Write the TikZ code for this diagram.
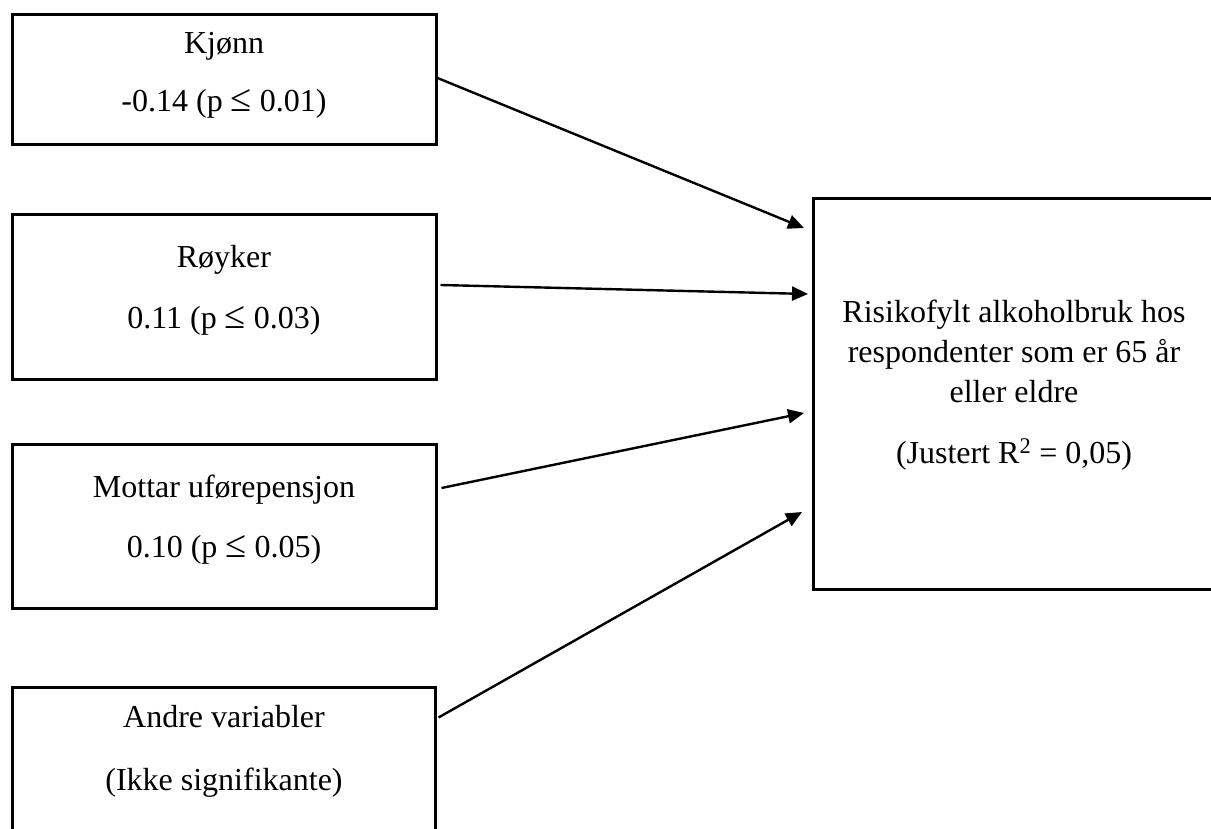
\documentclass[tikz,border=0pt]{standalone}
\usepackage{fontspec}
\setmainfont{Liberation Serif}
\usetikzlibrary{arrows.meta}
\newcommand{\myle}{\scalebox{1.2}{≤}}
\begin{document}
\begin{tikzpicture}[x=1pt,y=-1pt,
  box/.style={draw, line width=3pt, rectangle, inner sep=0pt},
  lbl/.style={anchor=base, font=\fontsize{32}{40}\selectfont, inner sep=0pt},
  conn/.style={line width=2.4pt, -{Triangle[length=16pt,width=14pt]}}]
\useasboundingbox (0,0) rectangle (1211,829);
\clip (0,0) rectangle (1211,829);
% boxes
\node[box, minimum width=424pt, minimum height=130pt] (k1) at (224,80) {};
\node[box, minimum width=424pt, minimum height=164pt] (k2) at (224,297) {};
\node[box, minimum width=424pt, minimum height=164pt] (k3) at (224,526) {};
\node[box, minimum width=423pt, minimum height=213pt] (k4) at (223.5,793.5) {};
\node[box, minimum width=404pt, minimum height=390pt] (out) at (1015,394) {};
% texts
\node[lbl] (k1a) at (224,54) {Kjønn};
\node[lbl] (k1b) at (224,112) {-0.14 (p \myle{} 0.01)};
\node[lbl] (k2a) at (224,268) {Røyker};
\node[lbl] (k2b) at (224,328) {0.11 (p \myle{} 0.03)};
\node[lbl] (k3a) at (224,497) {Mottar uførepensjon};
\node[lbl] (k3b) at (224,557) {0.10 (p \myle{} 0.05)};
\node[lbl] (k4a) at (224,727) {Andre variabler};
\node[lbl] (k4b) at (224,790) {(Ikke signifikante)};
\node[lbl] (o1) at (1014,323) {Risikofylt alkoholbruk hos};
\node[lbl] (o2) at (1014,362) {respondenter som er 65 år};
\node[lbl] (o3) at (1014,402) {eller eldre};
\node[lbl] (o4) at (1014,463) {(Justert R\textsuperscript{2} = 0,05)};
% arrow tips
\coordinate (in1) at (804,228);
\coordinate (in2) at (808,294);
\coordinate (in3) at (804,413);
\coordinate (in4) at (802,512);
% connectors
\draw[conn] ([yshift=2pt]k1.east) -- (in1);
\draw[conn] ([xshift=3pt,yshift=12pt]k2.east) -- (in2);
\draw[conn] ([xshift=4pt,yshift=38pt]k3.east) -- (in3);
\draw[conn] ([xshift=2pt,yshift=-32pt]k4.north east) -- (in4);
\end{tikzpicture}
\end{document}
